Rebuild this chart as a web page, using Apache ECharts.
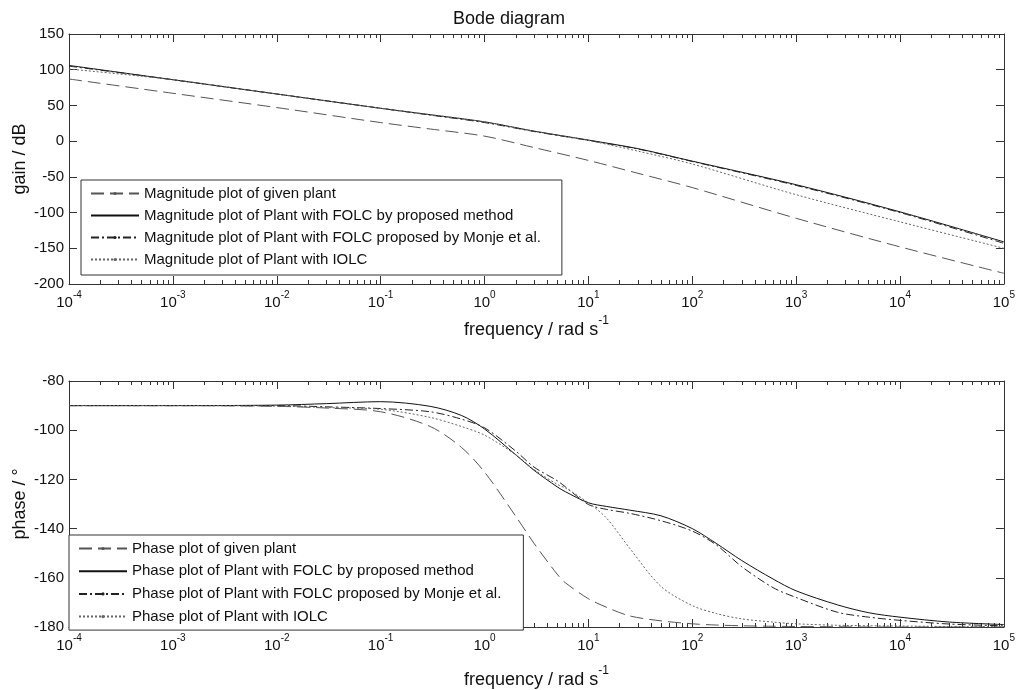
<!DOCTYPE html>
<html>
<head>
<meta charset="utf-8">
<title>Bode diagram</title>
<script src="https://cdn.jsdelivr.net/npm/echarts@6.0.0/dist/echarts.min.js"></script>
<style>
  html, body { margin: 0; padding: 0; background: #fff; }
  #chart { width: 1018px; height: 690px; }
</style>
</head>
<body>
<div id="chart"></div>
<script>
// frequency points, rad/s
const gainFreq = [1e-4, 1e-3, 1e-2, 1e-1, 0.3, 1, 3, 10, 30, 100, 1e3, 1e4, 1e5]
const gainPlant = [87, 67, 47, 26, 17, 7, -9, -27, -45, -65, -108, -148, -185]
const gainFolc = [106, 86, 66, 46, 37, 27, 14, 1.5, -10.5, -28, -61, -99, -141]
const gainMonje = [105, 86, 66, 46, 36.5, 26, 13.5, 1, -11, -28.5, -62, -100, -143]
const gainIolc = [101, 86, 66, 46, 37, 27, 14, 1, -14, -32, -75, -113, -150]

const phaseFreq = [1e-4, 1e-3, 1e-2, 3e-2, 0.1, 0.3, 0.6, 1, 2, 3, 5, 6, 10, 15, 25, 50, 100, 170, 300, 600, 1e3, 2500, 5000, 1e4, 3e4, 1e5]
const phasePlant = [-90, -90, -90.3, -91, -92.5, -98.5, -107, -117, -135, -146, -158.5, -162, -168.5, -172, -175.5, -177.5, -178.7, -179.2, -179.5, -179.7, -179.8, -179.9, -180, -180, -180, -180]
const phaseFolc = [-90, -90, -89.8, -89.2, -88.4, -90.3, -94, -99.5, -110, -116.3, -123, -125, -129.5, -131, -132.5, -134.8, -140, -146, -153, -160.5, -165.3, -171, -174.2, -176, -178, -179]
const phaseMonje = [-90, -90, -90, -90.5, -91.2, -92.5, -95.5, -99, -108.5, -115, -120.5, -123, -130.2, -132.2, -133.8, -136.8, -141, -146.6, -155.5, -164, -168, -174, -176, -177.3, -178.8, -179.5]
const phaseIolc = [-90, -90, -90.2, -90.8, -91.5, -94.8, -98.5, -102, -110, -116, -122, -123.5, -129.5, -135.8, -148, -163.5, -171.3, -174.5, -176.7, -178, -178.7, -179.3, -179.5, -179.6, -179.8, -179.9]

// axis ticks
const decades = [1e-4, 1e-3, 1e-2, 1e-1, 1, 10, 100, 1e3, 1e4, 1e5]

const gainNames = [
  'Magnitude plot of given plant',
  'Magnitude plot of Plant with FOLC by proposed method',
  'Magnitude plot of Plant with FOLC proposed by Monje et al.',
  'Magnitude plot of Plant with IOLC'
]
const phaseNames = [
  'Phase plot of given plant',
  'Phase plot of Plant with FOLC by proposed method',
  'Phase plot of Plant with FOLC proposed by Monje et al.',
  'Phase plot of Plant with IOLC'
]

// minor ticks 2..9 in every decade
const minorTicks = []
for (let d = -4; d < 5; d++) {
  for (let k = 2; k <= 9; k++) minorTicks.push(k * Math.pow(10, d))
}

const font = '"Liberation Sans", Arial, Helvetica, sans-serif'
const axisColor = '#333'

const supRich = {
  b: { fontSize: 15, color: '#111', fontFamily: font, verticalAlign: 'bottom', lineHeight: 20 },
  s: { fontSize: 10, color: '#111', fontFamily: font, verticalAlign: 'top', lineHeight: 20 }
}

function logAxis(gridIndex, position, ticks, len, nameGap) {
  const withLabel = !!nameGap
  return {
    type: 'log',
    logBase: 10,
    gridIndex: gridIndex,
    position: position,
    min: 1e-4,
    max: 1e5,
    axisLine: { show: len > 5, onZero: false, lineStyle: { color: axisColor, width: 1 } },
    axisTick: { inside: true, length: len, customValues: ticks, lineStyle: { color: axisColor } },
    axisLabel: withLabel ? {
      customValues: decades,
      margin: 6,
      formatter: function (v) {
        return '{b|10}{s|' + Math.round(Math.log10(v)) + '}'
      },
      rich: supRich
    } : { show: false },
    splitLine: { show: false },
    name: withLabel ? '{n|frequency / rad s}{s|-1}' : '',
    nameLocation: 'middle',
    nameGap: nameGap || 0,
    nameTextStyle: {
      rich: {
        n: { fontSize: 18, color: '#111', fontFamily: font, verticalAlign: 'bottom', lineHeight: 24 },
        s: { fontSize: 12, color: '#111', fontFamily: font, verticalAlign: 'top', lineHeight: 24 }
      }
    }
  }
}

function valAxis(gridIndex, position, min, max, interval, name) {
  return {
    type: 'value',
    gridIndex: gridIndex,
    position: position,
    min: min,
    max: max,
    interval: interval,
    axisLine: { show: true, lineStyle: { color: axisColor } },
    axisTick: { show: true, inside: true, length: 8, lineStyle: { color: axisColor } },
    axisLabel: name ? { color: '#111', fontSize: 15, fontFamily: font, margin: 5 } : { show: false },
    splitLine: { show: false },
    name: name || '',
    nameLocation: 'middle',
    nameRotate: 90,
    nameGap: 40,
    nameMoveOverlap: false,
    nameTextStyle: { fontSize: 18, color: '#111', fontFamily: font }
  }
}

function zip(xs, ys) {
  return xs.map((x, i) => [x, ys[i]])
}

const styles = [
  { color: '#555', type: [13, 6] },
  { color: '#111', type: 'solid' },
  { color: '#222', type: [8, 3, 2, 3] },
  { color: '#666', type: [2, 2] }
]

function lineSeries(name, idx, xi, yi, data) {
  const st = styles[idx]
  return {
    type: 'line',
    name: name,
    xAxisIndex: xi,
    yAxisIndex: yi,
    data: data,
    smooth: 0.3,
    showSymbol: false,
    symbol: 'circle',
    symbolSize: 3,
    itemStyle: { color: st.color },
    lineStyle: { color: st.color, width: 1, type: st.type },
    emphasis: { disabled: true },
    z: 3 + idx
  }
}

// legend entries, the solid one has no marker
function legendData(names) {
  return names.map((n, i) => i === 1
    ? { name: n, itemStyle: { color: 'rgba(0,0,0,0)', borderColor: 'rgba(0,0,0,0)' } }
    : { name: n })
}

const legendBase = {
  orient: 'vertical',
  selectedMode: false,
  backgroundColor: '#fff',
  borderColor: axisColor,
  borderWidth: 1,
  borderRadius: 0,
  itemWidth: 48,
  itemHeight: 4,
  itemGap: 7,
  textStyle: { fontSize: 15, lineHeight: 15, color: '#111', fontFamily: font },
  z: 10
}

const chart = echarts.init(document.getElementById('chart'))

const option = {
  animation: false,
  backgroundColor: '#fff',
  textStyle: { fontFamily: font },
  title: {
    text: 'Bode diagram',
    left: 'center',
    top: 5,
    textStyle: { fontSize: 18, fontWeight: 'normal', color: '#111', fontFamily: font }
  },
  grid: [
    { left: 69, right: 13, top: 34, height: 250 },
    { left: 69, right: 13, top: 381, height: 249 }
  ],
  xAxis: [
    logAxis(0, 'bottom', decades, 8, 31),
    logAxis(0, 'top', decades, 8),
    logAxis(0, 'bottom', minorTicks, 4),
    logAxis(0, 'top', minorTicks, 4),
    logAxis(1, 'bottom', decades, 8, 38),
    logAxis(1, 'top', decades, 8),
    logAxis(1, 'bottom', minorTicks, 4),
    logAxis(1, 'top', minorTicks, 4)
  ],
  yAxis: [
    valAxis(0, 'left', -200, 150, 50, 'gain / dB'),
    valAxis(0, 'right', -200, 150, 50, ''),
    valAxis(1, 'left', -180, -80, 20, 'phase / °'),
    valAxis(1, 'right', -180, -80, 20, '')
  ],
  legend: [
    Object.assign({}, legendBase, { data: legendData(gainNames), left: 81, top: 180, padding: [6, 21, 8, 9] }),
    Object.assign({}, legendBase, { data: legendData(phaseNames), left: 69, top: 535, padding: [6, 22, 6, 9], itemGap: 7.7 })
  ],
  series: [
    lineSeries(gainNames[0], 0, 0, 0, zip(gainFreq, gainPlant)),
    lineSeries(gainNames[1], 1, 0, 0, zip(gainFreq, gainFolc)),
    lineSeries(gainNames[2], 2, 0, 0, zip(gainFreq, gainMonje)),
    lineSeries(gainNames[3], 3, 0, 0, zip(gainFreq, gainIolc)),
    lineSeries(phaseNames[0], 0, 4, 2, zip(phaseFreq, phasePlant)),
    lineSeries(phaseNames[1], 1, 4, 2, zip(phaseFreq, phaseFolc)),
    lineSeries(phaseNames[2], 2, 4, 2, zip(phaseFreq, phaseMonje)),
    lineSeries(phaseNames[3], 3, 4, 2, zip(phaseFreq, phaseIolc))
  ]
}

chart.setOption(option)
</script>
</body>
</html>
